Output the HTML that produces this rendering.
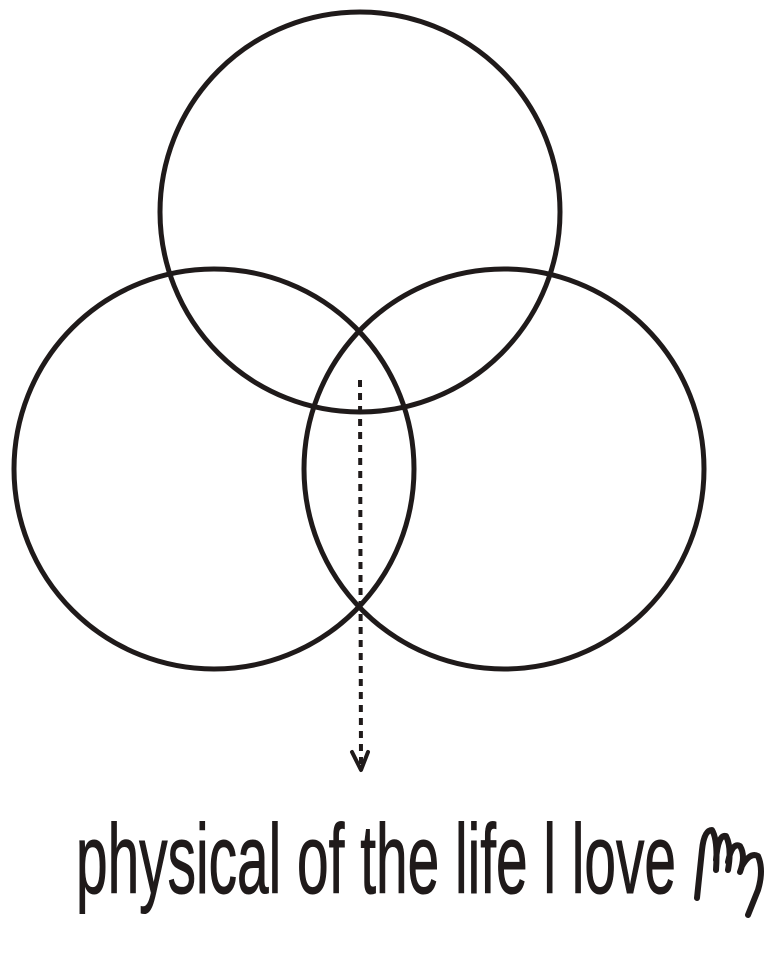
<!DOCTYPE html>
<html><head><meta charset="utf-8"><style>
html,body{margin:0;padding:0;background:#fff;}
svg{display:block;}
</style></head><body>
<svg width="780" height="979" viewBox="0 0 780 979" xmlns="http://www.w3.org/2000/svg">
<g fill="none" stroke="#1f1a1a" stroke-width="5">
<circle cx="360" cy="212" r="200"/>
<circle cx="214" cy="469" r="200"/>
<circle cx="504" cy="469" r="200"/>
</g>
<line x1="360" y1="380" x2="361" y2="766" stroke="#1f1a1a" stroke-width="4" stroke-dasharray="7,6"/>
<path d="M352 752 L361 770 L368 752" fill="none" stroke="#1f1a1a" stroke-width="4" stroke-linecap="round" stroke-linejoin="round"/>
<g transform="translate(0,893) scale(1,1.3) translate(0,-893)">
<text x="76" y="893" font-family="Liberation Sans Narrow, Liberation Sans, sans-serif" font-size="76" fill="#1f1a1a" stroke="#1f1a1a" stroke-width="0.8" textLength="600" lengthAdjust="spacingAndGlyphs">physical of the life l love</text>
</g>
<path d="M697 898 L702 850 Q704 830 712 830 Q718 840 716 870 M716 860 Q718 834 726 836 Q732 848 728 870 M728 862 Q732 842 740 846 Q746 856 740 872 M742 866 Q750 852 758 856 Q764 870 758 890 L748 915" fill="none" stroke="#1f1a1a" stroke-width="6" stroke-linecap="round" stroke-linejoin="round"/>
</svg>
</body></html>
